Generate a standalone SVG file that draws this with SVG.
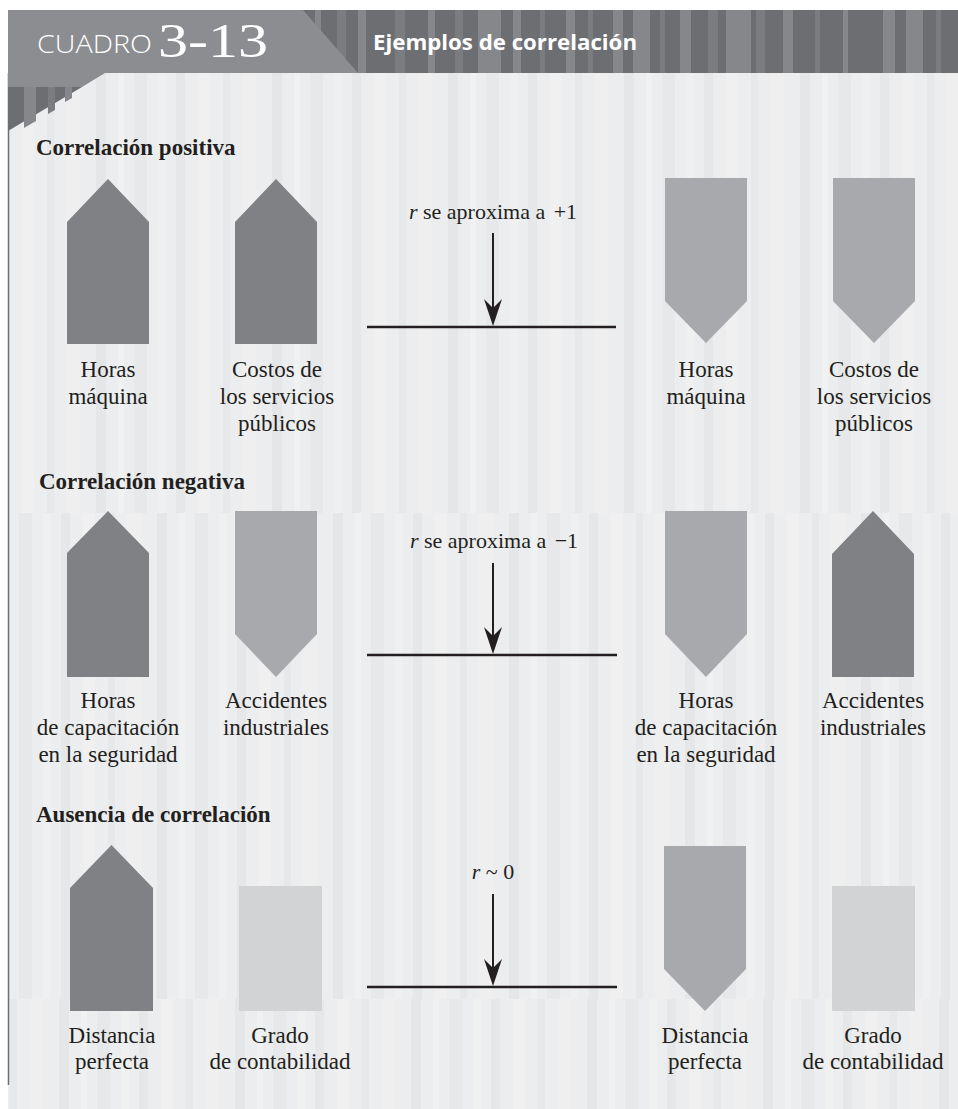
<svg xmlns="http://www.w3.org/2000/svg" width="958" height="1109" viewBox="0 0 958 1109">
<defs>
<style>
.dk{fill:#808184}
.md{fill:#a7a9ac}
.lt{fill:#d1d3d4}
.lbl{font-family:"Liberation Serif",serif;font-size:23px;fill:#231f20;text-anchor:middle}
.sec{font-family:"Liberation Serif",serif;font-size:23px;font-weight:bold;fill:#231f20}
.rt{font-family:"Liberation Serif",serif;font-size:22px;fill:#231f20;text-anchor:middle}
.ln{stroke:#231f20;stroke-width:2.5;fill:none}
.ar{stroke:#231f20;stroke-width:2;fill:none}
.hs{fill:#86878a}
.hs2{fill:#7b7c80}
</style>
<pattern id="bg" patternUnits="userSpaceOnUse" width="176" height="20">
<rect width="176" height="20" fill="#ecedee"/>
<rect x="0" width="9" height="20" fill="#e6e7e8"/>
<rect x="22" width="12" height="20" fill="#f0f0f1"/>
<rect x="47" width="7" height="20" fill="#e7e8e9"/>
<rect x="66" width="14" height="20" fill="#efeff0"/>
<rect x="96" width="10" height="20" fill="#e5e6e7"/>
<rect x="118" width="6" height="20" fill="#f0f1f1"/>
<rect x="134" width="13" height="20" fill="#e7e8e9"/>
<rect x="158" width="8" height="20" fill="#f0f0f1"/>
</pattern>
<pattern id="bg2" href="#bg" x="61"/>
<pattern id="bg3" href="#bg" x="-37"/>
<path id="ah" d="M0,0 L-9,-27 L0,-18 L9,-27 Z" fill="#231f20"/>
</defs>
<rect width="958" height="1109" fill="#ffffff"/>
<g id="background">
<rect x="8" y="73" width="950" height="440" fill="url(#bg)"/>
<rect x="8" y="513" width="950" height="486" fill="url(#bg2)"/>
<rect x="8" y="999" width="950" height="110" fill="url(#bg3)"/>
<line x1="8.5" y1="73" x2="8.5" y2="1085" stroke="#6d6e71" stroke-width="1.5"/>
</g>
<g id="header">
<rect x="8" y="10" width="950" height="63" fill="#6d6e72"/>
<g>
<rect x="315" y="10" width="6" height="63" class="hs"/>
<rect x="337" y="10" width="9" height="63" class="hs2"/>
<rect x="358" y="10" width="8" height="63" class="hs"/>
<rect x="395" y="10" width="10" height="63" class="hs2"/>
<rect x="428" y="10" width="7" height="63" class="hs"/>
<rect x="455" y="10" width="8" height="63" class="hs2"/>
<rect x="478" y="10" width="23" height="63" class="hs"/>
<rect x="513" y="10" width="8" height="63" class="hs"/>
<rect x="540" y="10" width="5" height="63" class="hs2"/>
<rect x="566" y="10" width="9" height="63" class="hs"/>
<rect x="588" y="10" width="5" height="63" class="hs2"/>
<rect x="613" y="10" width="10" height="63" class="hs"/>
<rect x="633" y="10" width="17" height="63" class="hs"/>
<rect x="660" y="10" width="5" height="63" class="hs2"/>
<rect x="680" y="10" width="11" height="63" class="hs"/>
<rect x="708" y="10" width="10" height="63" class="hs2"/>
<rect x="726" y="10" width="25" height="63" class="hs"/>
<rect x="756" y="10" width="9" height="63" class="hs2"/>
<rect x="783" y="10" width="10" height="63" class="hs"/>
<rect x="815" y="10" width="5" height="63" class="hs2"/>
<rect x="843" y="10" width="5" height="63" class="hs"/>
<rect x="883" y="10" width="12" height="63" class="hs"/>
<rect x="906" y="10" width="17" height="63" class="hs"/>
<rect x="936" y="10" width="5" height="63" class="hs2"/>
</g>
<g>
<polygon points="8,87 82,87 8,131" fill="#6d6e72"/>
<polygon points="24,87 36,87 36,121 24,128" class="hs"/>
<polygon points="48,87 55,87 55,110 48,114" class="hs2"/>
<polygon points="65,87 72,87 72,98 65,102" class="hs"/>
</g>
<polygon points="8,10 303,10 358,73 105,73 82,87 8,87" fill="#8c8d90"/>
<text x="37" y="53" font-family="'Open Sans','Liberation Sans',sans-serif" font-size="25" font-weight="300" fill="#ffffff" textLength="115" lengthAdjust="spacingAndGlyphs">CUADRO</text>
<text x="158" y="57" font-family="'Liberation Serif',serif" font-size="48" fill="#ffffff" textLength="110" lengthAdjust="spacingAndGlyphs">3-13</text>
<text x="373" y="50" font-family="'Open Sans','Liberation Sans',sans-serif" font-size="22" font-weight="bold" fill="#ffffff" textLength="264" lengthAdjust="spacingAndGlyphs">Ejemplos de correlación</text>
</g>
<g id="sec-positiva">
<text class="sec" x="36" y="155">Correlación positiva</text>
<g id="p1"><polygon class="dk" points="67,222 108,179 149,222 149,344 67,344"/><text class="lbl"><tspan x="108" y="377">Horas</tspan><tspan x="108" y="404">máquina</tspan></text></g>
<g id="p2"><polygon class="dk" points="235,222 276,179 317,222 317,344 235,344"/><text class="lbl"><tspan x="277" y="377">Costos de</tspan><tspan x="277" y="404">los servicios</tspan><tspan x="277" y="431">públicos</tspan></text></g>
<g id="p3"><polygon class="md" points="665,178 747,178 747,301 706,343 665,301"/><text class="lbl"><tspan x="706" y="377">Horas</tspan><tspan x="706" y="404">máquina</tspan></text></g>
<g id="p4"><polygon class="md" points="833,178 915,178 915,301 874,343 833,301"/><text class="lbl"><tspan x="874" y="377">Costos de</tspan><tspan x="874" y="404">los servicios</tspan><tspan x="874" y="431">públicos</tspan></text></g>
<g id="p-r"><text class="rt" x="493" y="219"><tspan font-style="italic">r</tspan> se aproxima a <tspan dx="3">+1</tspan></text></g>
</g>
<g id="sec-negativa">
<text class="sec" x="39" y="489">Correlación negativa</text>
<g id="n1"><polygon class="dk" points="67,553 108,511 149,553 149,677 67,677"/><text class="lbl"><tspan x="108" y="708">Horas</tspan><tspan x="108" y="735">de capacitación</tspan><tspan x="108" y="762">en la seguridad</tspan></text></g>
<g id="n2"><polygon class="md" points="235,511 317,511 317,634 276,677 235,634"/><text class="lbl"><tspan x="276" y="708">Accidentes</tspan><tspan x="276" y="735">industriales</tspan></text></g>
<g id="n3"><polygon class="md" points="665,511 747,511 747,634 706,677 665,634"/><text class="lbl"><tspan x="706" y="708">Horas</tspan><tspan x="706" y="735">de capacitación</tspan><tspan x="706" y="762">en la seguridad</tspan></text></g>
<g id="n4"><polygon class="dk" points="832,554 873,511 914,554 914,677 832,677"/><text class="lbl"><tspan x="873" y="708">Accidentes</tspan><tspan x="873" y="735">industriales</tspan></text></g>
<g id="n-r"><text class="rt" x="494" y="548"><tspan font-style="italic">r</tspan> se aproxima a <tspan dx="3">−1</tspan></text></g>
</g>
<g id="sec-ausencia">
<text class="sec" x="36" y="822">Ausencia de correlación</text>
<g id="a1"><polygon class="dk" points="70,888 111.5,845 153,888 153,1011 70,1011"/><text class="lbl"><tspan x="112" y="1043">Distancia</tspan><tspan x="112" y="1069">perfecta</tspan></text></g>
<g id="a2"><rect class="lt" x="239" y="886" width="83" height="125"/><text class="lbl"><tspan x="280" y="1043">Grado</tspan><tspan x="280" y="1069">de contabilidad</tspan></text></g>
<g id="a3"><polygon class="md" points="664,846 746,846 746,969 705,1011 664,969"/><text class="lbl"><tspan x="705" y="1043">Distancia</tspan><tspan x="705" y="1069">perfecta</tspan></text></g>
<g id="a4"><rect class="lt" x="832" y="886" width="83" height="125"/><text class="lbl"><tspan x="873" y="1043">Grado</tspan><tspan x="873" y="1069">de contabilidad</tspan></text></g>
<g id="a-r"><text class="rt" x="493" y="879"><tspan font-style="italic">r</tspan> ~ 0</text></g>
</g>
<g id="connectors">
<line class="ln" x1="367" y1="327" x2="616" y2="327"/>
<line class="ar" x1="493" y1="233" x2="493" y2="310"/>
<use href="#ah" x="493" y="326"/>
<line class="ln" x1="367" y1="655" x2="617" y2="655"/>
<line class="ar" x1="493" y1="563" x2="493" y2="638"/>
<use href="#ah" x="493" y="654"/>
<line class="ln" x1="367" y1="987" x2="617" y2="987"/>
<line class="ar" x1="493" y1="894" x2="493" y2="970"/>
<use href="#ah" x="493" y="986"/>
</g>
</svg>
